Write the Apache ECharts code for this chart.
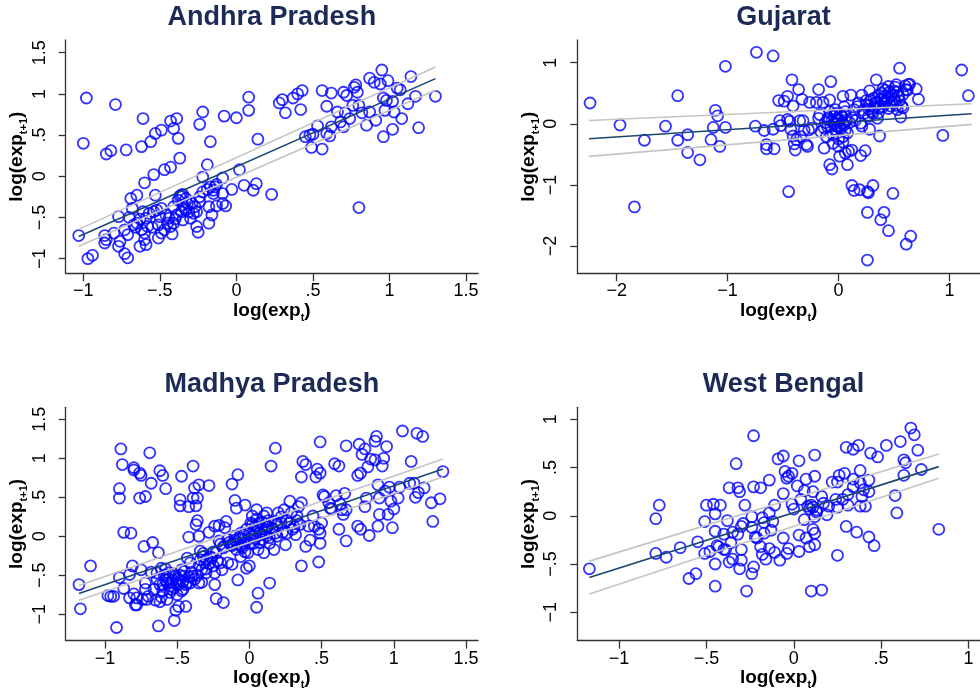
<!DOCTYPE html>
<html>
<head>
<meta charset="utf-8">
<script src="https://cdn.jsdelivr.net/npm/echarts@6/dist/echarts.min.js"></script>
<style>
  html, body { margin: 0; padding: 0; background: #fff; }
  #chart { width: 980px; height: 698px; }
</style>
</head>
<body>
<div id="chart"></div>
<script>
// ---- data ----
const panelNames = ['Andhra Pradesh', 'Gujarat', 'Madhya Pradesh', 'West Bengal'];

const apXTicks = [-1, -0.5, 0, 0.5, 1, 1.5];
const apYTicks = [-1, -0.5, 0, 0.5, 1, 1.5];
const guXTicks = [-2, -1, 0, 1];
const guYTicks = [-2, -1, 0, 1];
const mpXTicks = [-1, -0.5, 0, 0.5, 1, 1.5];
const mpYTicks = [-1, -0.5, 0, 0.5, 1, 1.5];
const wbXTicks = [-1, -0.5, 0, 0.5, 1];
const wbYTicks = [-1, -0.5, 0, 0.5, 1];

const apPoints = [
  [-1.03,-0.72],[-0.98,0.95],[-1.0,0.40],[-0.97,-1.0],[-0.94,-0.96],[-0.79,0.87],[-0.85,0.27],[-0.82,0.31],
  [-0.72,0.32],[-0.61,0.70],[-0.62,0.36],[-0.56,0.42],[-0.53,0.52],[-0.49,0.56],[-0.43,0.67],[-0.39,0.70],
  [-0.41,0.58],[-0.38,0.46],[-0.37,0.22],[-0.47,0.08],[-0.43,0.11],[-0.54,0.02],[-0.60,-0.08],[-0.53,-0.23],
  [-0.65,-0.23],[-0.69,-0.27],[-0.68,-0.39],[-0.77,-0.49],[-0.70,-0.50],[-0.86,-0.72],[-0.85,-0.77],[-0.86,-0.81],
  [-0.80,-0.69],[-0.77,-0.85],[-0.76,-0.79],[-0.73,-0.94],[-0.71,-0.99],[-0.73,-0.65],[-0.71,-0.71],[-0.67,-0.59],
  [-0.65,-0.57],[-0.63,-0.52],[-0.61,-0.43],[-0.59,-0.51],[-0.62,-0.65],[-0.60,-0.69],[-0.63,-0.85],[-0.59,-0.83],
  [-0.60,-0.77],[-0.58,-0.61],[-0.54,-0.43],[-0.52,-0.41],[-0.49,-0.39],[-0.50,-0.49],[-0.51,-0.59],[-0.51,-0.75],
  [-0.49,-0.69],[-0.47,-0.65],[-0.45,-0.57],[-0.44,-0.51],[-0.43,-0.61],[-0.42,-0.70],[-0.41,-0.37],[-0.41,-0.57],
  [-0.39,-0.47],[-0.38,-0.29],[-0.37,-0.24],[-0.36,-0.23],[-0.35,-0.22],[-0.33,-0.27],[-0.32,-0.33],[-0.35,-0.35],
  [-0.36,-0.43],[-0.35,-0.53],[-0.33,-0.41],[-0.31,-0.43],[-0.30,-0.51],[-0.29,-0.33],[-0.27,-0.37],[-0.26,-0.43],
  [-0.24,-0.31],[-0.24,-0.25],[-0.26,-0.61],[-0.25,-0.68],[-0.22,-0.19],[-0.24,0.63],[-0.22,0.78],[-0.17,0.42],
  [-0.19,0.14],[-0.22,-0.01],[-0.19,-0.16],[-0.17,-0.13],[-0.15,-0.17],[-0.14,-0.13],[-0.13,-0.10],[-0.15,-0.21],
  [-0.18,-0.37],[-0.18,-0.57],[-0.16,-0.47],[-0.13,-0.36],[-0.09,-0.21],[-0.09,-0.02],[-0.09,-0.33],[-0.07,-0.36],
  [-0.08,0.73],[0.0,0.71],[-0.03,-0.16],[0.02,0.08],[0.05,-0.11],[0.08,0.96],[0.08,0.80],[0.11,-0.17],
  [0.13,-0.09],[0.14,0.45],[0.23,-0.22],[0.28,0.89],[0.30,0.93],[0.32,0.77],[0.37,0.95],[0.40,1.00],
  [0.43,1.04],[0.42,0.81],[0.45,0.48],[0.48,0.50],[0.50,0.51],[0.49,0.35],[0.53,0.61],[0.56,1.04],
  [0.56,0.33],[0.59,0.85],[0.59,0.52],[0.62,1.01],[0.62,0.60],[0.61,0.49],[0.66,0.78],[0.68,0.66],
  [0.70,0.60],[0.70,1.02],[0.72,0.98],[0.71,0.77],[0.74,0.70],[0.76,0.86],[0.77,1.08],[0.78,1.11],
  [0.79,1.02],[0.80,0.86],[0.82,0.77],[0.80,-0.38],[0.85,0.62],[0.87,0.78],[0.87,1.19],[0.90,1.14],
  [0.91,0.68],[0.94,1.12],[0.95,1.29],[0.96,0.95],[0.96,0.48],[0.98,0.92],[0.97,0.80],[0.99,1.16],
  [1.02,0.91],[1.02,0.57],[1.03,0.78],[1.05,1.07],[1.07,1.05],[1.08,0.70],[1.12,0.88],[1.14,1.21],
  [1.17,0.97],[1.19,0.59],[1.30,0.97],
  [-0.57,-0.45],[-0.46,-0.47],[-0.40,-0.52],[-0.34,-0.38],[-0.28,-0.45],[-0.55,-0.62],[-0.66,-0.62]
];
const apFit   = [[-1.03, -0.73], [1.30, 1.185]];
const apUpper = [[-1.03, -0.645], [1.30, 1.327]];
const apLower = [[-1.03, -0.85], [1.30, 1.044]];

const guPoints = [
  [-2.24,0.34],[-1.97,-0.02],[-1.84,-1.36],[-1.75,-0.27],[-1.56,-0.04],[-1.45,0.46],[-1.45,-0.27],[-1.36,-0.18],
  [-1.36,-0.47],[-1.25,-0.59],[-1.15,-0.26],[-1.13,-0.06],[-1.11,0.22],[-1.09,0.13],[-1.07,-0.37],[-1.02,-0.06],
  [-1.02,0.94],[-0.75,-0.04],[-0.74,1.17],[-0.67,-0.11],[-0.65,-0.34],[-0.65,-0.41],[-0.59,1.11],[-0.59,-0.09],
  [-0.58,-0.41],[-0.54,0.38],[-0.53,0.05],[-0.52,-0.03],[-0.49,0.37],[-0.46,0.45],[-0.46,0.07],[-0.44,0.04],
  [-0.45,-1.11],[-0.43,-0.09],[-0.42,0.72],[-0.41,0.29],[-0.41,-0.20],[-0.40,-0.33],[-0.39,-0.43],[-0.38,-0.26],
  [-0.36,0.56],[-0.35,0.05],[-0.34,-0.21],[-0.33,0.40],[-0.32,0.05],[-0.31,-0.10],[-0.29,-0.34],[-0.28,-0.37],
  [-0.27,-0.10],[-0.26,0.35],[-0.24,-0.07],[-0.20,0.35],[-0.18,0.56],[-0.18,0.09],[-0.17,0.15],[-0.16,-0.13],
  [-0.14,0.35],[-0.13,-0.07],[-0.13,-0.40],[-0.11,-0.21],[-0.10,0.07],[-0.08,0.20],[-0.08,0.39],[-0.07,0.69],
  [-0.07,-0.04],[-0.05,-0.32],[-0.04,0.12],[-0.04,0.01],[-0.03,0.23],[-0.02,-0.10],[-0.01,0.09],[0.0,-0.37],
  [0.01,-0.53],[-0.08,-0.67],[-0.06,-0.74],[0.01,-0.03],[0.02,0.15],[0.04,0.45],[0.04,-0.21],[0.04,0.01],
  [0.05,0.28],[0.06,-0.10],[0.06,-0.48],[0.08,-0.67],[0.09,-0.45],[0.11,0.47],[0.12,-0.43],[0.12,-1.01],
  [0.14,-1.09],[0.14,0.23],[0.17,0.28],[0.18,0.34],[0.19,-1.08],[0.20,-0.52],[0.20,0.01],[0.21,-0.04],
  [0.21,0.47],[0.23,0.17],[0.24,-0.44],[0.25,0.31],[0.26,-1.11],[0.26,-2.23],[0.26,-1.45],[0.27,-1.13],
  [0.27,0.24],[0.28,-0.09],[0.28,0.54],[0.29,0.39],[0.31,-1.01],[0.31,0.17],[0.33,0.34],[0.34,0.72],
  [0.35,0.09],[0.36,0.47],[0.37,-0.20],[0.37,0.26],[0.38,-1.57],[0.40,0.57],[0.40,0.28],[0.41,-1.45],
  [0.42,0.45],[0.43,0.37],[0.45,0.61],[0.45,-1.75],[0.47,0.29],[0.48,0.47],[0.49,-1.14],[0.50,0.54],
  [0.52,0.64],[0.53,0.23],[0.54,0.45],[0.55,0.91],[0.56,0.11],[0.57,0.29],[0.58,0.26],[0.61,0.56],
  [0.61,-1.97],[0.63,0.64],[0.65,-1.84],[0.64,0.65],[0.70,0.57],[0.72,0.40],[0.94,-0.19],[1.11,0.88],
  [1.17,0.46],
  [-0.12,0.02],[-0.10,-0.05],[-0.06,0.05],[-0.03,0.0],[-0.02,0.17],[0.0,0.05],[0.02,-0.08],[0.03,0.12],
  [0.05,-0.02],[0.07,0.06],[0.08,-0.15],[0.10,0.02],[-0.09,0.10],[-0.05,-0.18],[0.0,-0.25],[0.04,-0.30],
  [-0.01,-0.05],[0.06,0.20],[0.12,0.10],[0.15,0.05],
  [0.22,0.22],[0.25,0.38],[0.28,0.30],[0.30,0.20],[0.32,0.42],[0.33,0.28],[0.35,0.35],[0.38,0.40],
  [0.39,0.50],[0.41,0.33],[0.42,0.55],[0.44,0.42],[0.46,0.52],[0.48,0.35],[0.50,0.40],[0.51,0.60],
  [0.53,0.52],[0.55,0.38],[0.58,0.48],[0.60,0.62],[0.62,0.55],[0.36,0.18],[0.27,0.12],[0.45,0.25],[0.52,0.30]
];
const guFit   = [[-2.25, -0.245], [1.20, 0.164]];
const guUpper = [[-2.25, 0.054], [1.20, 0.327]];
const guLower = [[-2.25, -0.534], [1.20, -0.01]];

const mpPoints = [
  [-1.18,-0.62],[-1.17,-0.93],[-1.10,-0.38],[-0.98,-0.76],[-0.96,-0.77],[-0.94,-0.77],[-0.92,-1.17],[-0.90,-0.53],
  [-0.90,0.61],[-0.90,0.49],[-0.89,1.12],[-0.88,0.92],[-0.87,0.05],[-0.87,-0.67],[-0.83,-0.79],[-0.82,0.04],
  [-0.81,-0.38],[-0.83,-0.49],[-0.80,0.85],[-0.80,0.88],[-0.80,-0.74],[-0.79,-0.88],[-0.78,-0.79],[-0.78,-0.88],
  [-0.76,0.49],[-0.76,0.81],[-0.75,0.78],[-0.75,-0.43],[-0.74,-0.81],[-0.73,-0.13],[-0.72,0.51],[-0.72,-0.60],
  [-0.72,-0.68],[-0.71,-0.81],[-0.70,-0.77],[-0.69,1.07],[-0.68,0.68],[-0.68,-0.46],[-0.67,-0.08],[-0.66,-0.68],
  [-0.65,-0.82],[-0.64,-0.47],[-0.63,-0.21],[-0.63,-1.15],[-0.62,-0.84],[-0.62,0.84],[-0.61,-0.41],[-0.60,0.78],
  [-0.60,-0.62],[-0.58,0.61],[-0.58,-0.56],[-0.57,-0.81],[-0.56,-0.47],[-0.55,-0.64],[-0.54,-0.68],[-0.53,-0.56],
  [-0.52,-1.08],[-0.51,-0.95],[-0.51,-0.51],[-0.50,-0.75],[-0.50,-0.60],[-0.49,-0.90],[-0.48,0.47],[-0.48,0.39],
  [-0.47,0.77],[-0.47,-0.43],[-0.46,-0.68],[-0.45,-0.51],[-0.44,-0.90],[-0.43,-0.28],[-0.43,-0.60],[-0.42,-0.01],
  [-0.42,0.38],[-0.41,-0.34],[-0.40,-0.51],[-0.39,0.90],[-0.39,0.49],[-0.38,0.62],[-0.37,0.15],[-0.37,0.39],
  [-0.36,0.20],[-0.36,0.49],[-0.35,-0.38],[-0.35,0.66],[-0.35,0.00],[-0.34,-0.19],[-0.33,-0.43],[-0.33,-0.59],
  [-0.32,-0.26],[-0.31,-0.34],[-0.30,-0.47],[-0.28,0.65],[-0.28,0.05],[-0.27,-0.26],[-0.25,-0.38],[-0.24,0.13],
  [-0.24,-0.47],[-0.24,-0.62],[-0.23,-0.80],[-0.23,-0.21],[-0.21,0.14],[-0.21,-0.06],[-0.20,-0.34],[-0.19,-0.43],
  [-0.18,-0.85],[-0.18,-0.13],[-0.17,0.11],[-0.16,0.19],[-0.15,-0.34],[-0.15,-0.04],[-0.13,-0.11],[-0.12,-0.36],
  [-0.12,0.67],[-0.11,-0.09],[-0.10,0.46],[-0.10,0.00],[-0.09,0.36],[-0.09,-0.17],[-0.08,0.79],[-0.08,-0.56],
  [-0.07,-0.04],[-0.06,-0.26],[-0.06,0.04],[-0.05,-0.15],[-0.04,-0.09],[-0.03,0.40],[-0.02,-0.41],[-0.02,0.09],
  [-0.01,-0.21],[0.0,-0.38],[0.01,0.17],[0.02,0.00],[0.02,0.26],[0.03,-0.09],[0.04,0.13],[0.05,0.34],
  [0.05,-0.91],[0.06,-0.17],[0.06,-0.73],[0.07,0.04],[0.07,0.17],[0.09,-0.04],[0.10,0.26],[0.10,-0.21],
  [0.11,0.09],[0.12,0.30],[0.12,0.00],[0.13,0.13],[0.14,-0.60],[0.14,-0.09],[0.15,0.90],[0.16,0.09],
  [0.17,-0.17],[0.18,1.13],[0.18,0.19],[0.19,0.00],[0.20,0.30],[0.22,0.17],[0.24,0.34],[0.25,-0.11],
  [0.26,0.04],[0.28,0.45],[0.28,0.17],[0.30,0.09],[0.32,0.02],[0.33,0.26],[0.34,0.38],[0.35,0.15],
  [0.36,0.76],[0.36,-0.38],[0.36,0.43],[0.37,0.96],[0.39,0.92],[0.39,-0.13],[0.41,0.13],[0.42,-0.05],
  [0.44,0.26],[0.45,0.13],[0.46,0.76],[0.47,0.86],[0.48,0.09],[0.48,-0.33],[0.49,0.81],[0.49,1.21],
  [0.49,0.04],[0.49,-0.09],[0.50,0.17],[0.51,0.53],[0.52,0.51],[0.55,0.43],[0.56,0.36],[0.57,0.35],
  [0.59,0.93],[0.60,0.52],[0.62,0.90],[0.62,0.09],[0.63,0.41],[0.64,0.34],[0.65,0.28],[0.66,0.55],
  [0.67,-0.06],[0.67,1.16],[0.67,0.34],[0.75,0.78],[0.75,0.13],[0.76,1.18],[0.77,0.81],[0.77,0.09],
  [0.78,1.05],[0.80,1.12],[0.80,0.38],[0.81,0.49],[0.82,0.89],[0.83,0.01],[0.84,0.99],[0.87,0.98],
  [0.87,1.22],[0.88,1.28],[0.89,0.13],[0.89,0.66],[0.90,0.49],[0.90,0.28],[0.92,0.90],[0.93,1.00],
  [0.94,0.58],[0.95,1.15],[0.96,0.28],[0.97,0.63],[0.98,0.45],[0.99,0.11],[1.00,0.35],[1.03,0.49],
  [1.04,0.63],[1.06,1.35],[1.11,0.68],[1.12,0.96],[1.14,0.68],[1.15,0.50],[1.16,1.32],[1.17,0.56],
  [1.20,1.28],[1.21,0.62],[1.26,0.43],[1.27,0.19],[1.32,0.48],[1.34,0.83],
  [-0.64,-0.55],[-0.62,-0.62],[-0.60,-0.70],[-0.59,-0.50],[-0.57,-0.60],[-0.56,-0.55],[-0.55,-0.72],[-0.54,-0.60],
  [-0.53,-0.48],[-0.52,-0.66],[-0.50,-0.55],[-0.49,-0.62],[-0.48,-0.50],[-0.47,-0.70],[-0.46,-0.58],[-0.45,-0.45],
  [-0.44,-0.62],[-0.42,-0.52],[-0.41,-0.60],[-0.40,-0.46],[-0.38,-0.55],[-0.36,-0.50],[-0.35,-0.60],[-0.58,-0.42],
  [-0.61,-0.78],
  [-0.14,-0.08],[-0.12,-0.12],[-0.10,-0.05],[-0.08,-0.10],[-0.07,-0.02],[-0.05,-0.12],[-0.04,0.02],[-0.02,-0.06],
  [0.0,0.05],[0.01,-0.10],[0.03,0.08],[0.04,-0.03],[0.06,0.12],[0.08,0.02],[0.09,0.18],[0.11,0.05],
  [0.13,0.20],[0.14,-0.02],[0.16,0.10],[0.18,0.04],[0.19,0.15],[0.05,0.22],[0.02,0.15],[-0.03,-0.20],
  [0.07,-0.08],[0.12,0.12],[-0.18,-0.15],[-0.20,-0.10],[-0.25,-0.20],[-0.30,-0.30],
  [-0.28,-0.35],[-0.26,-0.28],[-0.22,-0.32],[-0.30,-0.42],[-0.34,-0.30],[-0.32,-0.22],
  [0.22,0.25],[0.26,0.20],[0.29,0.30],[0.31,0.12],[0.33,0.20],[0.23,0.05]
];
const mpFit   = [[-1.18, -0.735], [1.34, 0.863]];
const mpUpper = [[-1.18, -0.63], [1.34, 0.99]];
const mpLower = [[-1.18, -0.82], [1.34, 0.76]];

const wbPoints = [
  [-1.17,-0.55],[-0.79,-0.03],[-0.79,-0.39],[-0.77,0.11],[-0.73,-0.43],[-0.65,-0.33],[-0.60,-0.65],[-0.56,-0.60],
  [-0.55,-0.27],[-0.51,-0.39],[-0.51,-0.06],[-0.50,0.11],[-0.48,-0.37],[-0.46,0.12],[-0.45,-0.16],[-0.45,-0.50],
  [-0.45,-0.73],[-0.45,0.02],[-0.44,-0.31],[-0.43,-0.32],[-0.42,0.11],[-0.40,-0.19],[-0.40,-0.35],[-0.39,-0.35],
  [-0.38,-0.05],[-0.37,0.29],[-0.37,-0.48],[-0.36,-0.28],[-0.35,-0.45],[-0.35,-0.17],[-0.33,0.54],[-0.32,-0.19],
  [-0.32,0.29],[-0.31,0.25],[-0.31,-0.55],[-0.30,-0.46],[-0.30,-0.35],[-0.30,-0.11],[-0.29,-0.08],[-0.28,0.11],
  [-0.27,-0.78],[-0.24,-0.01],[-0.23,0.30],[-0.23,0.83],[-0.24,-0.12],[-0.23,-0.53],[-0.24,-0.60],[-0.22,-0.22],
  [-0.21,-0.23],[-0.19,-0.32],[-0.19,0.29],[-0.18,-0.02],[-0.18,-0.40],[-0.17,-0.07],[-0.17,-0.18],[-0.16,-0.45],
  [-0.14,0.03],[-0.14,0.37],[-0.14,-0.34],[-0.13,-0.15],[-0.12,-0.06],[-0.11,-0.38],[-0.11,0.11],[-0.09,0.59],
  [-0.08,-0.46],[-0.06,0.23],[-0.06,0.62],[-0.06,-0.23],[-0.05,0.46],[-0.04,-0.39],[-0.04,0.39],[-0.03,-0.34],
  [-0.03,0.41],[-0.01,0.44],[-0.01,0.12],[0.0,0.07],[0.02,0.31],[0.03,0.57],[0.03,-0.20],[0.03,-0.37],
  [0.04,0.17],[0.06,-0.04],[0.06,0.26],[0.07,0.38],[0.07,-0.23],[0.08,0.10],[0.09,0.07],[0.09,-0.32],
  [0.10,-0.78],[0.10,0.11],[0.11,0.25],[0.11,-0.14],[0.11,0.09],[0.12,-0.18],[0.12,-0.30],[0.12,-0.01],
  [0.12,0.41],[0.12,0.63],[0.13,0.04],[0.13,0.06],[0.16,-0.77],[0.16,0.20],[0.17,0.13],[0.19,0.01],
  [0.20,0.10],[0.22,0.35],[0.24,0.17],[0.25,0.35],[0.25,-0.41],[0.25,0.09],[0.26,0.42],[0.28,0.17],
  [0.29,0.44],[0.30,-0.11],[0.30,0.71],[0.31,0.22],[0.31,0.11],[0.34,0.69],[0.34,0.38],[0.34,0.30],
  [0.36,-0.17],[0.37,0.73],[0.38,0.10],[0.38,0.34],[0.38,0.47],[0.39,0.20],[0.40,0.27],[0.41,0.10],
  [0.43,0.37],[0.43,0.25],[0.43,-0.22],[0.44,0.65],[0.46,-0.31],[0.48,0.61],[0.53,0.73],[0.58,0.21],
  [0.59,0.03],[0.61,0.77],[0.63,0.58],[0.63,0.42],[0.64,0.55],[0.67,0.91],[0.69,0.84],[0.71,0.68],
  [0.73,0.48],[0.83,-0.14]
];
const wbFit   = [[-1.17, -0.64], [0.83, 0.51]];
const wbUpper = [[-1.17, -0.47], [0.83, 0.64]];
const wbLower = [[-1.17, -0.81], [0.83, 0.39]];

// ---- layout (pixels) ----
const font = 'Liberation Sans, Arial, Helvetica, sans-serif';
const grids = [
  { left: 65.7, top: 40, width: 412.3, height: 233.3 },
  { left: 577.3, top: 40, width: 412.3, height: 233.3 },
  { left: 65.7, top: 407.3, width: 412.3, height: 233.3 },
  { left: 577.3, top: 407.3, width: 412.3, height: 233.3 }
];
const xRanges = [[-1.115, 1.578], [-2.355, 1.275], [-1.272, 1.583], [-1.239, 1.066]];
const yRanges = [[-1.178, 1.654], [-2.447, 1.371], [-1.338, 1.654], [-1.294, 1.125]];
const xTickSets = [apXTicks, guXTicks, mpXTicks, wbXTicks];
const yTickSets = [apYTicks, guYTicks, mpYTicks, wbYTicks];
const pointSets = [apPoints, guPoints, mpPoints, wbPoints];
const lineSets = [
  [apUpper, apLower, apFit],
  [guUpper, guLower, guFit],
  [mpUpper, mpLower, mpFit],
  [wbUpper, wbLower, wbFit]
];

function fmt(v) {
  let s = String(Math.abs(v)).replace(/^0\./, '.');
  return (v < 0 ? '\u2212' : '') + s;
}

const axisLineStyle = { color: '#333', width: 1.3 };
const nameRich = {
  m: { fontSize: 19, fontWeight: 'bold', fontFamily: font, color: '#000', padding: [0, 0, 3, 0], verticalAlign: 'bottom' },
  s: { fontSize: 11, fontWeight: 'bold', fontFamily: font, color: '#000', verticalAlign: 'bottom' }
};

const xAxes = [], yAxes = [], series = [], titles = [];
grids.forEach((g, i) => {
  titles.push({
    text: panelNames[i],
    left: g.left + g.width / 2,
    top: g.top - 36,
    textAlign: 'center',
    padding: 0,
    textStyle: { fontSize: 27, fontWeight: 'bold', color: '#1c2b55', fontFamily: font }
  });
  xAxes.push({
    gridIndex: i, type: 'value',
    min: xRanges[i][0], max: xRanges[i][1],
    splitLine: { show: false },
    axisLine: { onZero: false, lineStyle: axisLineStyle },
    axisTick: { length: 8, lineStyle: axisLineStyle, customValues: xTickSets[i] },
    axisLabel: { fontSize: 18, color: '#000', fontFamily: font, margin: 9, customValues: xTickSets[i], formatter: fmt },
    name: '{m|log(exp}{s|t}{m|)}',
    nameLocation: 'middle', nameGap: 27,
    nameTextStyle: { rich: nameRich }
  });
  yAxes.push({
    gridIndex: i, type: 'value',
    min: yRanges[i][0], max: yRanges[i][1],
    splitLine: { show: false },
    axisLine: { onZero: false, lineStyle: axisLineStyle },
    axisTick: { length: 7, lineStyle: axisLineStyle, customValues: yTickSets[i] },
    axisLabel: { fontSize: 18, color: '#000', fontFamily: font, margin: 17, rotate: 90, customValues: yTickSets[i], formatter: fmt },
    name: '{m|log(exp}{s|t+1}{m|)}',
    nameLocation: 'middle', nameGap: 36,
    nameTextStyle: { rich: nameRich }
  });
  series.push({
    type: 'scatter', xAxisIndex: i, yAxisIndex: i,
    data: pointSets[i],
    symbol: 'circle', symbolSize: 11,
    itemStyle: { color: 'rgba(0,0,0,0)', borderColor: '#0000ff', borderWidth: 1.8 },
    silent: true, z: 2
  });
  lineSets[i].forEach((d, k) => {
    series.push({
      type: 'line', xAxisIndex: i, yAxisIndex: i,
      data: d, showSymbol: false, silent: true, z: 3,
      lineStyle: { color: k < 2 ? '#c4c4c4' : '#1a476f', width: 1.6 }
    });
  });
});

const chart = echarts.init(document.getElementById('chart'), null, { renderer: 'canvas' });
chart.setOption({
  animation: false,
  backgroundColor: '#fff',
  title: titles,
  grid: grids,
  xAxis: xAxes,
  yAxis: yAxes,
  series: series
});
</script>
</body>
</html>
